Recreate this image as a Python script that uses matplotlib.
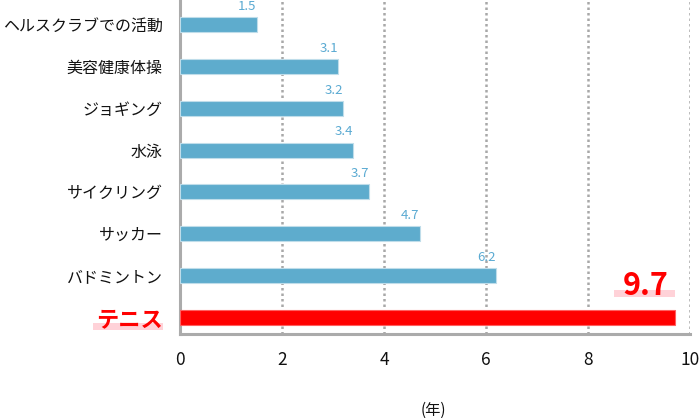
import matplotlib
matplotlib.use("Agg")
import matplotlib.pyplot as plt
import matplotlib.transforms as mtransforms
from matplotlib.patches import Rectangle
import numpy as np

plt.rcParams['font.family'] = ['Noto Sans CJK JP', 'DejaVu Sans']

categories = ["ヘルスクラブでの活動", "美容健康体操", "ジョギング", "水泳",
              "サイクリング", "サッカー", "バドミントン", "テニス"]
values = [1.5, 3.1, 3.2, 3.4, 3.7, 4.7, 6.2, 9.7]
value_labels = ["1.5", "3.1", "3.2", "3.4", "3.7", "4.7", "6.2", "9.7"]
x_ticks = [0, 2, 4, 6, 8, 10]
x_unit = "(年)"
highlight = "テニス"

blue = "#5EACCD"
blue_edge = "#BFDDEA"
red = "#FF0000"
pink = "#FFD2D8"

n = len(categories)
ypos = np.arange(n)[::-1]  # top category at highest y

fig = plt.figure(figsize=(7.0, 4.18), dpi=100)
ax = fig.add_axes([180/700, 1 - 334/418, 510/700, 334/418])

colors = [red if c == highlight else blue for c in categories]
edges = ["#FF6060" if c == highlight else blue_edge for c in categories]
ax.barh(ypos, values, height=0.36, color=colors, edgecolor=edges, linewidth=0.8, zorder=3)

ax.set_xlim(0, 10)
ax.set_ylim(-0.4, 7.59)
ax.set_xticks(x_ticks)
ax.set_xticklabels([str(t) for t in x_ticks], fontsize=12.5, color="#111111")
ax.set_yticks(ypos)
ax.set_yticklabels(categories, fontsize=11.5, color="#111111")
ax.tick_params(axis='both', length=0)
ax.tick_params(axis='y', pad=12.5)
ax.tick_params(axis='x', pad=12)

for lab in ax.get_yticklabels():
    if lab.get_text() == highlight:
        lab.set_color(red)
        lab.set_fontweight('bold')
        lab.set_fontsize(16)

# grid
for t in x_ticks[1:]:
    ax.axvline(t, color="#A8A8A8", linewidth=1.8, linestyle=(0, (1, 1.2)), zorder=1)

for s in ['top', 'right']:
    ax.spines[s].set_visible(False)
for s in ['left', 'bottom']:
    ax.spines[s].set_color("#ABABAB")
    ax.spines[s].set_linewidth(2.2)

# value labels
for y, v, lab, c in zip(ypos, values, value_labels, categories):
    if c == highlight:
        ax.add_patch(Rectangle((v - 1.2, y + 0.474), 1.2, 0.185, facecolor=pink,
                               edgecolor='none', zorder=2, clip_on=False))
        ax.text(v - 0.57, y + 0.53, lab, ha='center', va='baseline', fontsize=22,
                fontweight='bold', color=red, zorder=4)
    else:
        ax.annotate(lab, (v, y + 0.18), xytext=(0, 3), textcoords='offset points',
                    ha='right', va='bottom', fontsize=9.5, color="#5AAAD2", zorder=4)

# highlight band behind the highlighted category label
hi = categories.index(highlight)
trans = mtransforms.blended_transform_factory(ax.transAxes, ax.transData)
ax.add_patch(Rectangle((-0.1706, ypos[hi] - 0.30), 0.1373, 0.17, transform=trans,
                       facecolor=pink, edgecolor='none', zorder=0.5, clip_on=False))

fig.text(433/700, 1 - 410/418, x_unit, ha='center', va='center', fontsize=11, color="#111111")

fig.savefig("out.png", dpi=100)
